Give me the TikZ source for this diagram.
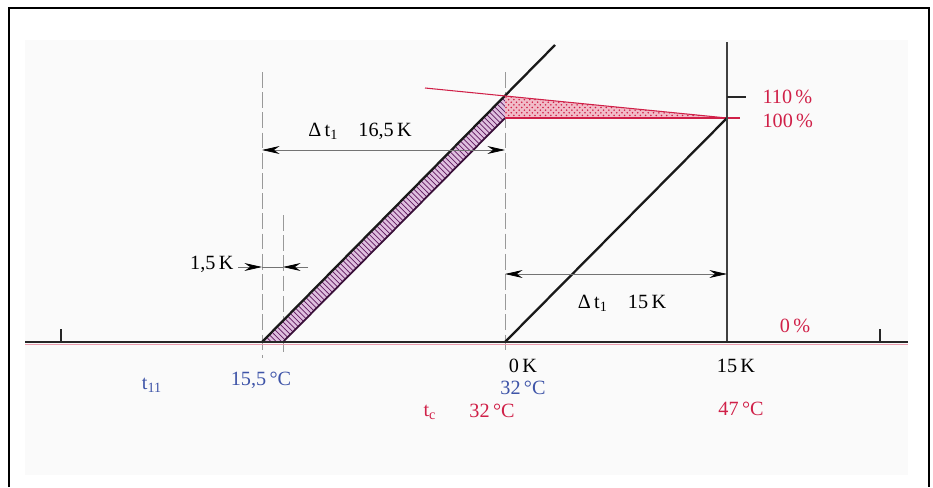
\documentclass[tikz,border=0pt]{standalone}
\usepackage{fontspec}
\setmainfont{Liberation Serif}
\usetikzlibrary{arrows.meta,patterns}

\definecolor{hotred}{RGB}{208,32,72}
\definecolor{coolblue}{RGB}{62,84,168}
\definecolor{bandviolet}{RGB}{95,25,95}

\tikzset{
  dimline/.style={thin, black!55, {Stealth[length=10pt,width=4.5pt,black]}-{Stealth[length=10pt,width=4.5pt,black]}},
  inarrow/.style={thin, black!55, -{Stealth[length=10pt,width=4.5pt,black]}},
  extline/.style={thin, black!40, dash pattern=on 9pt off 2.5pt},
  bluelabel/.style={text=coolblue},
  redlabel/.style={text=hotred},
}

\begin{document}
\begin{tikzpicture}[x=0.02cm, y=-0.02cm, thick,
    every node/.style={font=\fontsize{11.5}{13}\selectfont}]
  \useasboundingbox (0,0) rectangle (933,487);

  % --- frame and faint background ---
  \fill[black!2] (25,40) rectangle (908,475);
  \draw[line width=1pt] (9,487) -- (9,8) -- (929,8) -- (929,487);

  % --- key points ---
  \coordinate (axl) at (25,342);
  \coordinate (axr) at (908,342);
  \coordinate (tw) at (262,342);      % 15,5 C
  \coordinate (twb) at (283,342);     % + 1,5 K
  \coordinate (zk) at (505,342);      % 0 K
  \coordinate (fk) at (727,342);      % 15 K
  \coordinate (bandtop) at (505,96);
  \coordinate (bandlow) at (505,118);
  \coordinate (hundred) at (727,118);
  \coordinate (redstart) at (425,88);
  \coordinate (topend) at (555,45);

  % --- extension lines ---
  \draw[extline] (262,72) -- (262,358);
  \draw[extline] (283,215) -- (283,354);
  \draw[extline] (505,72) -- (505,352);

  % --- hatched band (water side) ---
  \fill[violet!25] (tw) -- (twb) -- (bandlow) -- (bandtop) -- cycle;
  \fill[pattern=north west lines, pattern color=bandviolet] (tw) -- (twb) -- (bandlow) -- (bandtop) -- cycle;
  \draw[bandviolet!60!black, line width=1pt] (twb) -- (bandlow);
  \draw[black!90, line width=1.3pt] (tw) -- (topend);

  % --- red wedge 100 % ... 110 % ---
  \fill[hotred!30] (bandtop) -- (hundred) -- (bandlow) -- cycle;
  \fill[pattern=crosshatch dots, pattern color=hotred] (bandtop) -- (hundred) -- (bandlow) -- cycle;
  \draw[hotred, semithick] (redstart) -- (hundred);
  \draw[hotred, line width=1pt] (bandlow) -- (740,118);

  % --- condenser line and 15 K axis ---
  \draw[black!90, line width=1.3pt] (zk) -- (hundred);
  \draw[black!75, line width=1.2pt] (fk) -- (727,42);
  \draw[black!85, line width=1pt] (727,97) -- (746,97);

  % --- base axis ---
  \draw[hotred!45, thin] (25,344.5) -- (908,344.5);
  \draw[black!85, line width=1.3pt] (axl) -- (axr);
  \draw[black!85, line width=1pt] (61,342) -- (61,329);
  \draw[black!85, line width=1pt] (880,342) -- (880,329);

  % --- dimensions ---
  \draw[dimline] (262,150) -- (505,150);
  \node (dt1) at (360,131) {Δ\,t\textsubscript{1}\quad 16,5\,K};

  \draw[thin, black!55] (262,267) -- (283,267);
  \draw[inarrow] (238,267) -- (262,267);
  \draw[inarrow] (308,267) -- (283,267);
  \node[anchor=east] (dk) at (240,264) {1,5\,K};

  \draw[dimline] (505,274) -- (727,274);
  \node (dt2) at (622,303) {Δ\,t\textsubscript{1}\quad 15\,K};

  % --- percent labels ---
  \node[redlabel, anchor=west] (p110) at (756,97) {110\,\%};
  \node[redlabel, anchor=west] (p100) at (756,121) {100\,\%};
  \node[redlabel] (p0) at (795,326) {0\,\%};

  % --- bottom labels ---
  \node (k0) at (523,366) {0\,K};
  \node (k15) at (736,366) {15\,K};
  \node[bluelabel] (tone) at (152,385) {t\textsubscript{11}};
  \node[bluelabel] (c155) at (261,380) {15,5\,°C};
  \node[bluelabel] (c32b) at (523,388) {32\,°C};
  \node[redlabel] (tc) at (430,412) {t\textsubscript{c}};
  \node[redlabel] (c32r) at (492,411) {32\,°C};
  \node[redlabel] (c47) at (741,409) {47\,°C};
\end{tikzpicture}
\end{document}
